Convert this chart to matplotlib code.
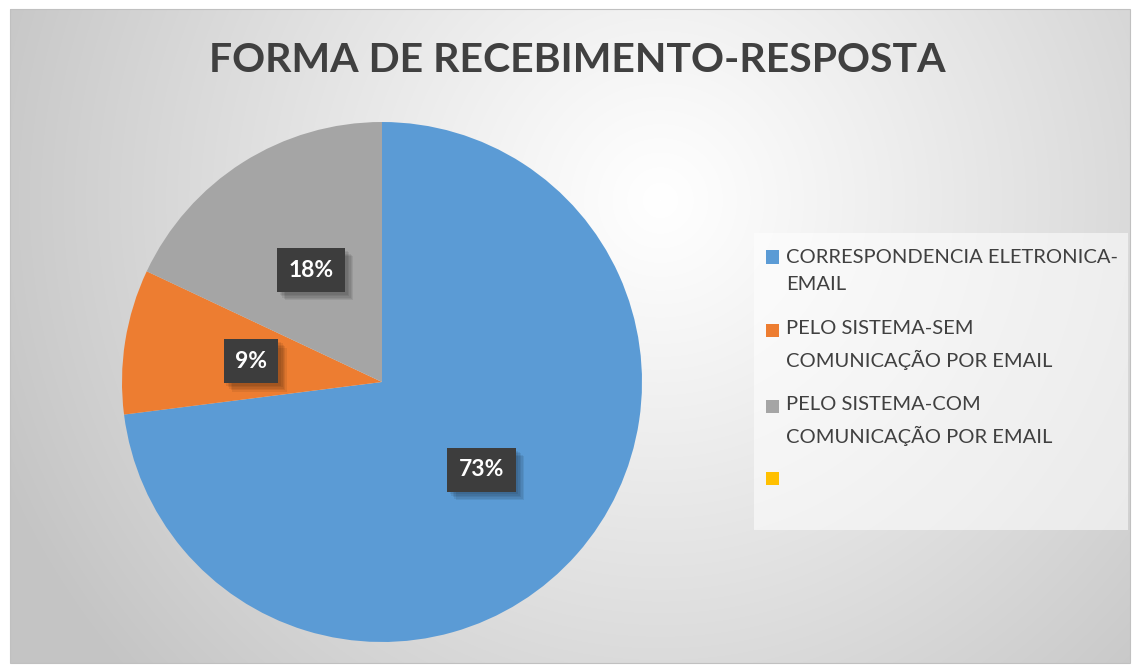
import numpy as np
import matplotlib.pyplot as plt
from matplotlib.patches import Patch, Rectangle
from matplotlib.legend_handler import HandlerPatch
import matplotlib.patheffects as pe

title = "FORMA DE RECEBIMENTO-RESPOSTA"
categories = ["CORRESPONDENCIA ELETRONICA-\nEMAIL",
              "PELO SISTEMA-SEM\nCOMUNICAÇÃO POR EMAIL",
              "PELO SISTEMA-COM\nCOMUNICAÇÃO POR EMAIL",
              ""]
values = [73, 9, 18, 0]
colors = ["#5B9BD5", "#ED7D31", "#A5A5A5", "#FFC000"]

plt.rcParams['font.family'] = ['Lato', 'DejaVu Sans']

W, H = 1133, 667
fig = plt.figure(figsize=(W / 100, H / 100), dpi=100)
fig.patch.set_facecolor('white')

# background radial gradient (chart area)
x0, y0, x1, y1 = 10, 9, 1130, 663
bg = fig.add_axes([x0 / W, 1 - y1 / H, (x1 - x0) / W, (y1 - y0) / H])
xs = np.arange(x0, x1)
ys = np.arange(y0, y1)
X, Y = np.meshgrid(xs, ys)
cx, cy, R = 660, 200, 720
d = np.clip(np.hypot(X - cx, Y - cy) / R, 0, 1)
v = (255 - (255 - 196) * d ** 1.1) / 255.0
img = np.dstack([v, v, v])
bg.imshow(img, extent=[0, 1, 0, 1], aspect='auto', origin='upper')
bg.set_axis_off()
fig.patches.append(Rectangle((x0 / W, 1 - y1 / H), (x1 - x0) / W, (y1 - y0) / H,
                             transform=fig.transFigure, fill=False,
                             edgecolor='#c0c0c0', linewidth=0.8, zorder=1))

# title
fig.text(577 / W, 1 - 60 / H, title, ha='center', va='center',
         fontsize=29.5, fontweight='bold', color='#404040')

# pie
cxp, cyp, r = 382, 382, 260
ax = fig.add_axes([(cxp - r) / W, 1 - (cyp + r) / H, 2 * r / W, 2 * r / H])
ax.patch.set_alpha(0)
wedges, texts, autotexts = ax.pie(
    values, colors=colors, startangle=90, counterclock=False,
    autopct=lambda p: f"{p:.0f}%" if p > 0.5 else "",
    pctdistance=0.51, radius=1,
    wedgeprops=dict(linewidth=0),
    textprops=dict(color='white', fontsize=16.5, fontweight='bold'))
ax.set_xlim(-1, 1)
ax.set_ylim(-1, 1)
ax.set_aspect('equal')
shadow = [pe.SimplePatchShadow(offset=(k, -k), shadow_rgbFace='black', alpha=0.07)
          for k in (2, 3, 4, 5, 6)]
for t in autotexts:
    if t.get_text():
        t.set_bbox(dict(boxstyle='square,pad=0.5', facecolor='#3d3d3d',
                        edgecolor='none'))
        t.get_bbox_patch().set_path_effects(shadow + [pe.Normal()])

# legend box
fig.patches.append(Rectangle((754 / W, 1 - 530 / H), 374 / W, 297 / H,
                             transform=fig.transFigure, facecolor='white',
                             alpha=0.55, edgecolor='none', zorder=1))

fs = 14.5
lsp = 1.75
line_px = 28
line_pt = line_px * 72 / 100


def make_handler(nlines):
    off = (nlines - 1) * line_pt / 2

    def pf(legend, orig_handle, xdescent, ydescent, width, height, fontsize):
        return Rectangle((-xdescent, -ydescent + off), width, height)
    return HandlerPatch(patch_func=pf)


handles = [Patch(facecolor=c, edgecolor='none') for c in colors]
hmap = {h: make_handler(max(1, lab.count("\n") + 1)) for h, lab in zip(handles, categories)}
leg = fig.legend(handles, categories, loc='upper left',
                 bbox_to_anchor=(766 / W, 1 - 249 / H), frameon=False,
                 fontsize=fs, labelcolor='#404040', handler_map=hmap,
                 handlelength=0.65, handleheight=0.65, handletextpad=0.35,
                 labelspacing=1.3, borderaxespad=0, borderpad=0)
for t in leg.get_texts():
    t.set_linespacing(lsp)

fig.savefig('out.png', dpi=100)
